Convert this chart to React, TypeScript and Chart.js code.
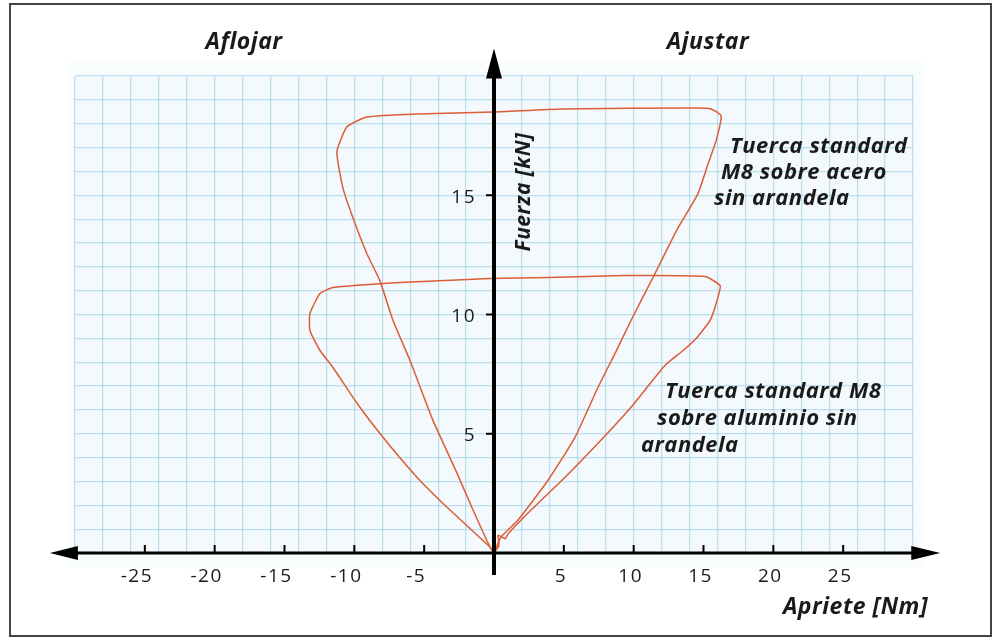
import React, { useEffect, useRef } from "react";
import { Chart, registerables } from "chart.js";

Chart.register(...registerables);

// Tuerca standard M8 sobre acero sin arandela
const steelX = [0, 0.5, 1.72, 3.87, 5.8, 7.45, 8.67, 9.81, 11.53, 13.18, 14.6, 15.33, 15.9, 16.26, 15.54, 14.4, 4.8, 0, -5.52, -9.1, -10.53, -11.25, -10.82, -10.1, -9.1, -8.17, -7.23, -6.02, -4.37, -2.65, -1.5, -0.29, 0];
const steelY = [0, 0.67, 1.38, 3.05, 4.85, 6.95, 8.37, 9.75, 11.72, 13.64, 15.06, 16.32, 17.28, 18.33, 18.62, 18.66, 18.62, 18.49, 18.41, 18.28, 17.87, 16.82, 15.31, 14.06, 12.55, 11.42, 9.75, 8.08, 5.56, 3.35, 1.8, 0.25, 0];

// Tuerca standard M8 sobre aluminio sin arandela
const aluX = [0, 0.35, 0.3, 0.8, 1.0, 2.65, 5.09, 7.45, 9.81, 12.25, 13.54, 14.54, 15.47, 15.97, 16.19, 15.11, 9.38, 3.87, -0.29, -6.73, -11.53, -12.46, -13.18, -13.18, -12.46, -11.53, -9.81, -7.95, -5.52, -3.15, -0.29, 0];
const aluY = [0, 0.3, 0.75, 0.6, 0.8, 1.8, 3.18, 4.6, 6.11, 7.87, 8.49, 9.04, 9.75, 10.59, 11.21, 11.59, 11.63, 11.55, 11.51, 11.34, 11.13, 10.88, 10.04, 9.33, 8.49, 7.78, 6.28, 4.85, 3.18, 1.8, 0.25, 0];

const xTickValues = [-25, -20, -15, -10, -5, 5, 10, 15, 20, 25];
const yTickValues = [5, 10, 15];

const titleLeft = "Aflojar";
const titleRight = "Ajustar";
const yTitle = "Fuerza [kN]";
const xTitle = "Apriete [Nm]";
const noteSteel = ["Tuerca standard", "M8 sobre acero", "sin arandela"];
const noteAlu = ["Tuerca standard M8", "sobre aluminio sin", "arandela"];

const CURVE = "#dc5d36";
const GRID = "rgba(150,205,225,0.6)";
const TXT = "#1a1a1a";
const TITLE_FONT = "italic 700 23px 'Open Sans', sans-serif";
const YTITLE_FONT = "italic 700 21px 'Open Sans', sans-serif";
const NOTE_FONT = "italic 700 22px 'Open Sans', sans-serif";
const TICK_FONT = "400 19px 'Open Sans', sans-serif";

export default function App() {
  const ref = useRef<HTMLCanvasElement>(null);

  useEffect(() => {
    const canvas = ref.current!;
    const pts = (xs: number[], ys: number[]) => xs.map((x, i) => ({ x, y: ys[i] }));

    const decor = {
      id: "decor",
      beforeDraw(chart: any) {
        const ctx = chart.ctx as CanvasRenderingContext2D;
        const a = chart.chartArea;
        ctx.save();
        ctx.fillStyle = "#ffffff";
        ctx.fillRect(0, 0, chart.width, chart.height);
        ctx.fillStyle = "#f8fcfd";
        ctx.fillRect(a.left - 8, a.top - 14, a.right - a.left + 18, a.bottom - a.top + 28);
        ctx.fillStyle = "#f3f9fc";
        ctx.fillRect(a.left, a.top, a.right - a.left, a.bottom - a.top);
        ctx.strokeStyle = "#444";
        ctx.lineWidth = 2;
        ctx.strokeRect(10, 4, 981, 632);
        ctx.restore();
      },
      afterDatasetsDraw(chart: any) {
        const ctx = chart.ctx as CanvasRenderingContext2D;
        const xs = chart.scales.x;
        const ys = chart.scales.y;
        const x0 = xs.getPixelForValue(0);
        const y0 = ys.getPixelForValue(0);
        const xl = xs.getPixelForValue(-31.8);
        const xr = xs.getPixelForValue(31.95);
        const yt = ys.getPixelForValue(21.15);
        ctx.save();
        ctx.fillStyle = "#000";
        ctx.strokeStyle = "#000";
        ctx.lineWidth = 3;
        ctx.beginPath();
        ctx.moveTo(xl + 20, y0);
        ctx.lineTo(xr - 20, y0);
        ctx.stroke();
        ctx.lineWidth = 4;
        ctx.beginPath();
        ctx.moveTo(x0, y0 + 22);
        ctx.lineTo(x0, yt + 20);
        ctx.stroke();
        ctx.beginPath();
        ctx.moveTo(xl, y0);
        ctx.lineTo(xl + 28, y0 - 7);
        ctx.lineTo(xl + 28, y0 + 7);
        ctx.closePath();
        ctx.fill();
        ctx.beginPath();
        ctx.moveTo(xr, y0);
        ctx.lineTo(xr - 29, y0 - 7);
        ctx.lineTo(xr - 29, y0 + 7);
        ctx.closePath();
        ctx.fill();
        ctx.beginPath();
        ctx.moveTo(x0, yt);
        ctx.lineTo(x0 - 8, yt + 30);
        ctx.lineTo(x0 + 8, yt + 30);
        ctx.closePath();
        ctx.fill();
        // ticks
        ctx.lineWidth = 2;
        ctx.font = TICK_FONT;
        ctx.fillStyle = TXT;
        ctx.textBaseline = "middle";
        ctx.textAlign = "center";
        (ctx as any).letterSpacing = "1.5px";
        xTickValues.forEach((v) => {
          const px = xs.getPixelForValue(v);
          ctx.beginPath();
          ctx.moveTo(px, y0 - 8);
          ctx.lineTo(px, y0);
          ctx.stroke();
          ctx.fillText(String(v), px + (v < 0 ? -8 : -3), y0 + 24);
        });
        ctx.textAlign = "right";
        yTickValues.forEach((v) => {
          const py = ys.getPixelForValue(v);
          ctx.beginPath();
          ctx.moveTo(x0 - 8, py);
          ctx.lineTo(x0, py);
          ctx.stroke();
          ctx.fillText(String(v), x0 - 18, py + 2);
        });
        // titles
        (ctx as any).letterSpacing = "0.5px";
        ctx.font = TITLE_FONT;
        ctx.textAlign = "center";
        ctx.fillText(titleLeft, 244, 42);
        ctx.fillText(titleRight, 708, 42);
        ctx.textAlign = "right";
        ctx.fillText(xTitle, 928, 607);
        ctx.save();
        ctx.font = YTITLE_FONT;
        ctx.translate(524, 192);
        ctx.rotate(-Math.PI / 2);
        ctx.textAlign = "center";
        ctx.fillText(yTitle, 0, 0);
        ctx.restore();
        // notes
        ctx.font = NOTE_FONT;
        ctx.textAlign = "left";
        const n1x = [730, 721, 714];
        const n1y = [147, 173, 199];
        noteSteel.forEach((t, i) => ctx.fillText(t, n1x[i], n1y[i]));
        const n2x = [665, 657, 641];
        const n2y = [392, 419, 446];
        noteAlu.forEach((t, i) => ctx.fillText(t, n2x[i], n2y[i]));
        ctx.restore();
      },
    };

    const chart = new Chart(canvas, {
      type: "scatter",
      data: {
        datasets: [
          {
            label: "Acero",
            data: pts(steelX, steelY),
            showLine: true,
            borderColor: CURVE,
            borderWidth: 1.5,
            pointRadius: 0,
            tension: 0.15,
            fill: false,
          },
          {
            label: "Aluminio",
            data: pts(aluX, aluY),
            showLine: true,
            borderColor: CURVE,
            borderWidth: 1.5,
            pointRadius: 0,
            tension: 0.15,
            fill: false,
          },
        ],
      },
      options: {
        responsive: false,
        animation: false,
        devicePixelRatio: 1,
        layout: { padding: { left: 75, right: 85, top: 76, bottom: 86 } },
        plugins: { legend: { display: false }, tooltip: { enabled: false } },
        scales: {
          x: {
            type: "linear",
            min: -30,
            max: 30,
            ticks: { display: false, stepSize: 2 },
            grid: { color: GRID, lineWidth: 1.2, drawTicks: false },
            border: { display: false },
          },
          y: {
            type: "linear",
            min: 0,
            max: 20,
            ticks: { display: false, stepSize: 1 },
            grid: { color: GRID, lineWidth: 1.2, drawTicks: false },
            border: { display: false },
          },
        },
      },
      plugins: [decor],
    });
    return () => chart.destroy();
  }, []);

  return (
    <div style={{ position: "fixed", left: 0, top: 0, width: 998, height: 639, background: "#fff" }}>
      <canvas ref={ref} width={998} height={639} style={{ display: "block" }} />
    </div>
  );
}
